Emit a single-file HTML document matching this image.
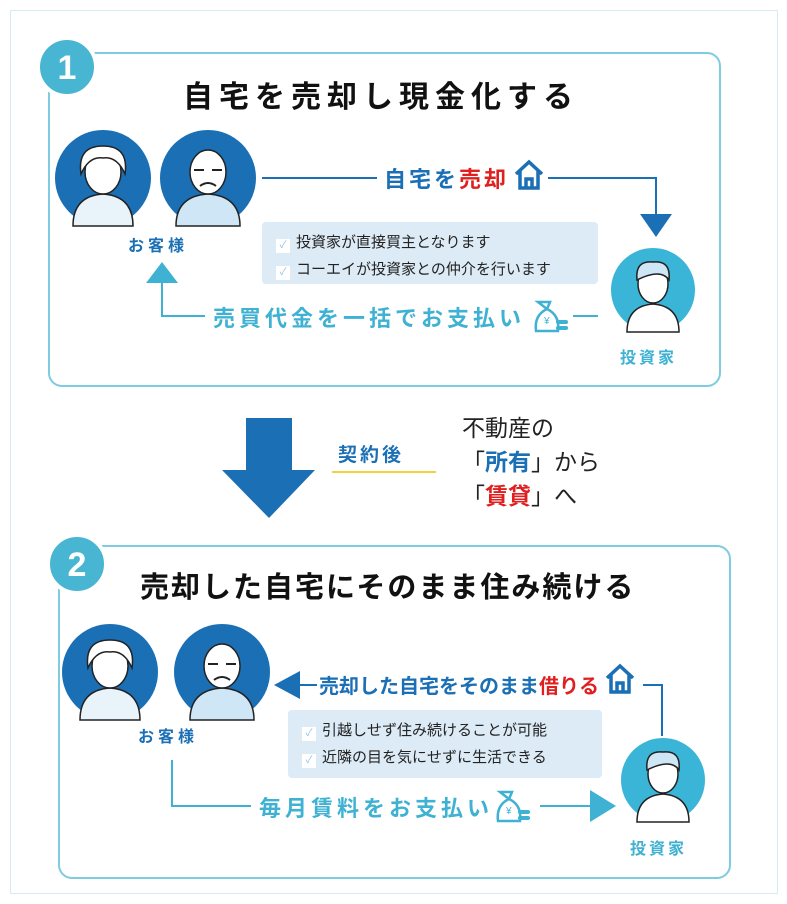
<!DOCTYPE html>
<html><head><meta charset="utf-8"><style>
*{margin:0;padding:0;box-sizing:border-box}
body{width:787px;height:904px;background:#fff;position:relative;overflow:hidden;font-family:"Liberation Sans","Noto Sans CJK JP",sans-serif}
.a{position:absolute;white-space:nowrap}
.panel{position:absolute;border:2px solid #7fcbe0;border-radius:14px;background:transparent}
.badge{position:absolute;width:62px;height:62px;border-radius:50%;background:#48b6d2;color:#fff;font-weight:bold;font-size:34px;text-align:center;line-height:56px;border:4px solid #fff}
.title{font-weight:bold;color:#111}
.bl{color:#1a6fb5;font-weight:bold}
.lb{color:#3fb1d2;font-weight:bold}
.red{color:#e02020}
.bubble{position:absolute;background:#dcebf6;border-radius:4px;font-size:15px;color:#222;padding:7px 0 0 14px;line-height:27px}
.chk{display:inline-block;width:14px;height:14px;background:#fff;color:#8cc4e0;font-size:10px;line-height:14px;text-align:center;margin-right:6px;vertical-align:-1px}
.ln{position:absolute;background:#1a6fb5}
.lnl{position:absolute;background:#3fb1d2}
.cust{font-size:16px;letter-spacing:4px}
</style></head><body>
<div style="position:absolute;left:10px;top:10px;width:768px;height:884px;border:1px solid #d6eaf2"></div>
<div class="panel" style="left:48px;top:52px;width:673px;height:335px"></div>
<div class="panel" style="left:58px;top:545px;width:673px;height:334px"></div>

<svg width="0" height="0" style="position:absolute"><defs>
<g id="woman"><circle cx="0" cy="0" r="48" fill="#1a6fb5"/><path d="M-30 48 Q-30 18 0 16 Q30 18 30 48Z" fill="#e8f3fa" stroke="#222" stroke-width="1.5"/><ellipse cx="0" cy="-6" rx="18" ry="22" fill="#fff" stroke="#222" stroke-width="1.5"/><path d="M-22 -4 Q-26 -32 0 -32 Q26 -32 22 -4 Q14 -22 0 -20 Q-14 -22 -22 -4Z" fill="#fff" stroke="#222" stroke-width="1.5"/></g>
<g id="man"><circle cx="0" cy="0" r="48" fill="#1a6fb5"/><path d="M-32 48 Q-32 18 0 16 Q32 18 32 48Z" fill="#cfe6f6" stroke="#222" stroke-width="1.5"/><ellipse cx="0" cy="-6" rx="18" ry="22" fill="#fff" stroke="#222" stroke-width="1.5"/><path d="M-14 -8 h10 M4 -8 h10" stroke="#222" stroke-width="2"/><path d="M-8 8 q8 -6 16 0" stroke="#222" fill="none" stroke-width="2"/></g>
<g id="inv"><circle cx="0" cy="0" r="42" fill="#3ab5d8"/><path d="M-26 42 Q-26 16 0 14 Q26 16 26 42Z" fill="#fff" stroke="#222" stroke-width="1.5"/><ellipse cx="0" cy="-6" rx="15" ry="19" fill="#fff" stroke="#222" stroke-width="1.5"/><path d="M-16 -10 Q-18 -30 0 -28 Q18 -30 16 -10 Q8 -22 -16 -10Z" fill="#cfe6f6" stroke="#222" stroke-width="1.5"/></g>
<g id="house"><path d="M2 14 L15 2 L28 14 M6 11 V28 H24 V11 M12 28 V19 H18 V28" fill="none" stroke="#1a6fb5" stroke-width="3.5"/></g>
<g id="money"><path d="M8 2 h12 l-3 7 q13 6 11 22 h-22 q-2 -16 11 -22Z" fill="none" stroke="#3fb1d2" stroke-width="2.5"/><text x="14" y="24" font-size="10" fill="#3fb1d2" font-family="Liberation Sans">¥</text><rect x="26" y="20" width="12" height="4" rx="2" fill="#3fb1d2"/><rect x="26" y="26" width="12" height="4" rx="2" fill="#3fb1d2"/></g>
</defs></svg>

<div class="badge" style="left:36px;top:36px">1</div>
<div class="a title" style="left:183px;top:72px;font-size:30px;letter-spacing:6px">自宅を売却し現金化する</div>
<svg class="a" style="left:0;top:0" width="787" height="904">
<use href="#woman" x="103" y="178"/><use href="#man" x="208" y="178"/>
<use href="#inv" x="653" y="290"/>
<polygon points="640,214 672,214 656,237" fill="#1a6fb5"/>
<polygon points="146,283 178,283 162,262" fill="#3fb1d2"/>
<use href="#house" x="514" y="160"/>
<use href="#money" x="530" y="300"/>
<use href="#woman" x="110" y="672"/><use href="#man" x="222" y="672"/>
<use href="#inv" x="663" y="780"/>
<polygon points="274,685 300,671 300,699" fill="#1a6fb5"/>
<polygon points="616,806 590,790 590,822" fill="#3fb1d2"/>
<use href="#house" x="605" y="664"/>
<use href="#money" x="492" y="790"/>
<polygon points="246,418 292,418 292,470 315,470 269,518 222,470 246,470" fill="#1a6fb5"/>
</svg>
<div class="ln" style="left:262px;top:177px;width:115px;height:2px"></div>
<div class="a bl" style="left:384px;top:162px;font-size:22px;letter-spacing:3px">自宅を<span class="red">売却</span></div>
<div class="ln" style="left:548px;top:177px;width:108px;height:2px"></div>
<div class="ln" style="left:655px;top:177px;width:2px;height:40px"></div>
<div class="a bl cust" style="left:128px;top:232px">お客様</div>
<div class="bubble" style="left:262px;top:222px;width:336px;height:62px"><div><span class="chk">✓</span>投資家が直接買主となります</div><div><span class="chk">✓</span>コーエイが投資家との仲介を行います</div></div>
<div class="lnl" style="left:161px;top:283px;width:2px;height:34px"></div>
<div class="lnl" style="left:161px;top:315px;width:44px;height:2px"></div>
<div class="a lb" style="left:213px;top:301px;font-size:22px;letter-spacing:4px">売買代金を一括でお支払い</div>
<div class="lnl" style="left:573px;top:315px;width:25px;height:2px"></div>
<div class="a lb" style="left:620px;top:344px;font-size:16px;letter-spacing:3px">投資家</div>

<div class="a bl" style="left:338px;top:440px;font-size:19px;letter-spacing:3px">契約後</div>
<div style="position:absolute;left:332px;top:471px;width:104px;height:2px;background:#f2d43a"></div>
<div class="a" style="left:462px;top:411px;font-size:23px;color:#222;line-height:34px">不動産の<br>「<span class="bl">所有</span>」から<br>「<span class="red" style="font-weight:bold">賃貸</span>」へ</div>

<div class="badge" style="left:46px;top:533px">2</div>
<div class="a title" style="left:140px;top:564px;font-size:29px;letter-spacing:2px">売却した自宅にそのまま住み続ける</div>
<div class="ln" style="left:299px;top:684px;width:18px;height:2px"></div>
<div class="a bl" style="left:319px;top:670px;font-size:20px">売却した自宅をそのまま<span class="red">借りる</span></div>
<div class="ln" style="left:643px;top:684px;width:20px;height:2px"></div>
<div class="ln" style="left:661px;top:684px;width:2px;height:52px"></div>
<div class="a bl cust" style="left:138px;top:723px">お客様</div>
<div class="bubble" style="left:288px;top:710px;width:314px;height:68px"><div><span class="chk">✓</span>引越しせず住み続けることが可能</div><div><span class="chk">✓</span>近隣の目を気にせずに生活できる</div></div>
<div class="lnl" style="left:171px;top:760px;width:2px;height:47px"></div>
<div class="lnl" style="left:171px;top:805px;width:80px;height:2px"></div>
<div class="a lb" style="left:259px;top:791px;font-size:22px;letter-spacing:4px">毎月賃料をお支払い</div>
<div class="lnl" style="left:540px;top:805px;width:52px;height:2px"></div>
<div class="a lb" style="left:630px;top:835px;font-size:16px;letter-spacing:3px">投資家</div>
</body></html>
